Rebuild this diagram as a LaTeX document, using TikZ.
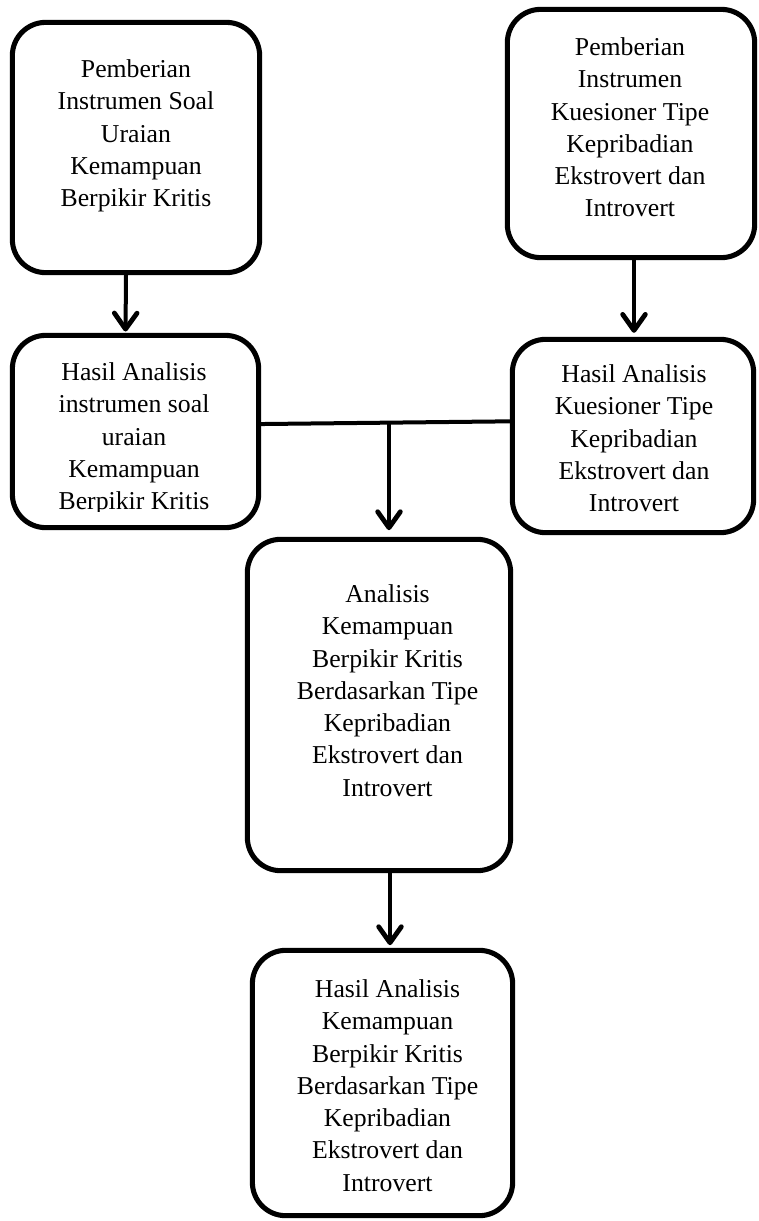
\documentclass[tikz,border=0pt]{standalone}
\usepackage{fontspec}
\setmainfont{Liberation Serif}
\usetikzlibrary{arrows.meta, positioning, calc}

\begin{document}
\begin{tikzpicture}[x=0.75pt, y=-0.75pt,
    roundbox/.style={draw, line width=3.8pt, rounded corners=25pt},
    txt/.style={align=center, inner sep=0pt, anchor=north, font=\fontsize{19.3pt}{24.2pt}\selectfont},
    flow/.style={line width=3pt, -{Straight Barb[length=12pt, width=17pt, round, line width=3.6pt]}},
    link/.style={line width=3pt}]
    \useasboundingbox (0,0) rectangle (758,1221);

    % Boxes
    \node[roundbox, minimum width=185.5pt, minimum height=187.7pt] (b1) at (136,147.5) {};
    \node[roundbox, minimum width=185.5pt, minimum height=186.2pt] (b2) at (631,133.5) {};
    \node[roundbox, minimum width=184.7pt, minimum height=144.2pt] (b3) at (135.5,431.5) {};
    \node[roundbox, minimum width=181pt, minimum height=145pt] (b4) at (633,436) {};
    \node[roundbox, minimum width=197.5pt, minimum height=248.5pt] (b5) at (379,705) {};
    \node[roundbox, minimum width=195.2pt, minimum height=199pt] (b6) at (382.5,1083) {};

    % Texts
    \node[txt] (t1) at (136,59.5) {Pemberian\\Instrumen Soal\\Uraian\\Kemampuan\\Berpikir Kritis};
    \node[txt] (t2) at (630,37.5) {Pemberian\\Instrumen\\Kuesioner Tipe\\Kepribadian\\Ekstrovert dan\\Introvert};
    \begin{scope}
      \clip ([yshift=14pt]b3.south west) rectangle (b3.north east);
      \node[txt] (t3) at (134,362.5) {Hasil Analisis\\instrumen soal\\uraian\\Kemampuan\\Berpikir Kritis};
    \end{scope}
    \node[txt] (t4) at (634,364.5) {Hasil Analisis\\Kuesioner Tipe\\Kepribadian\\Ekstrovert dan\\Introvert};
    \node[txt] (t5) at (387.5,584.5) {Analisis\\Kemampuan\\Berpikir Kritis\\Berdasarkan Tipe\\Kepribadian\\Ekstrovert dan\\Introvert};
    \node[txt] (t6) at (387.5,979.5) {Hasil Analisis\\Kemampuan\\Berpikir Kritis\\Berdasarkan Tipe\\Kepribadian\\Ekstrovert dan\\Introvert};

    % Connectors
    \draw[flow, shorten >=1pt] ([xshift=-7.5pt]b1.south) -- ([xshift=-7.5pt]b3.north);
    \draw[flow, shorten >=3pt] ([xshift=2.25pt]b2.south) -- ([xshift=2.25pt]b2.south |- b4.north);
    \coordinate (j) at (389,423);
    \draw[link] ([yshift=5.6pt]b3.east) -- ([yshift=11pt]b4.west);
    \draw[flow, shorten >=5pt] (j) -- (j |- b5.north);
    \draw[flow, shorten >=2pt] ([xshift=8.25pt]b5.south) -- ([xshift=8.25pt]b5.south |- b6.north);
\end{tikzpicture}
\end{document}
